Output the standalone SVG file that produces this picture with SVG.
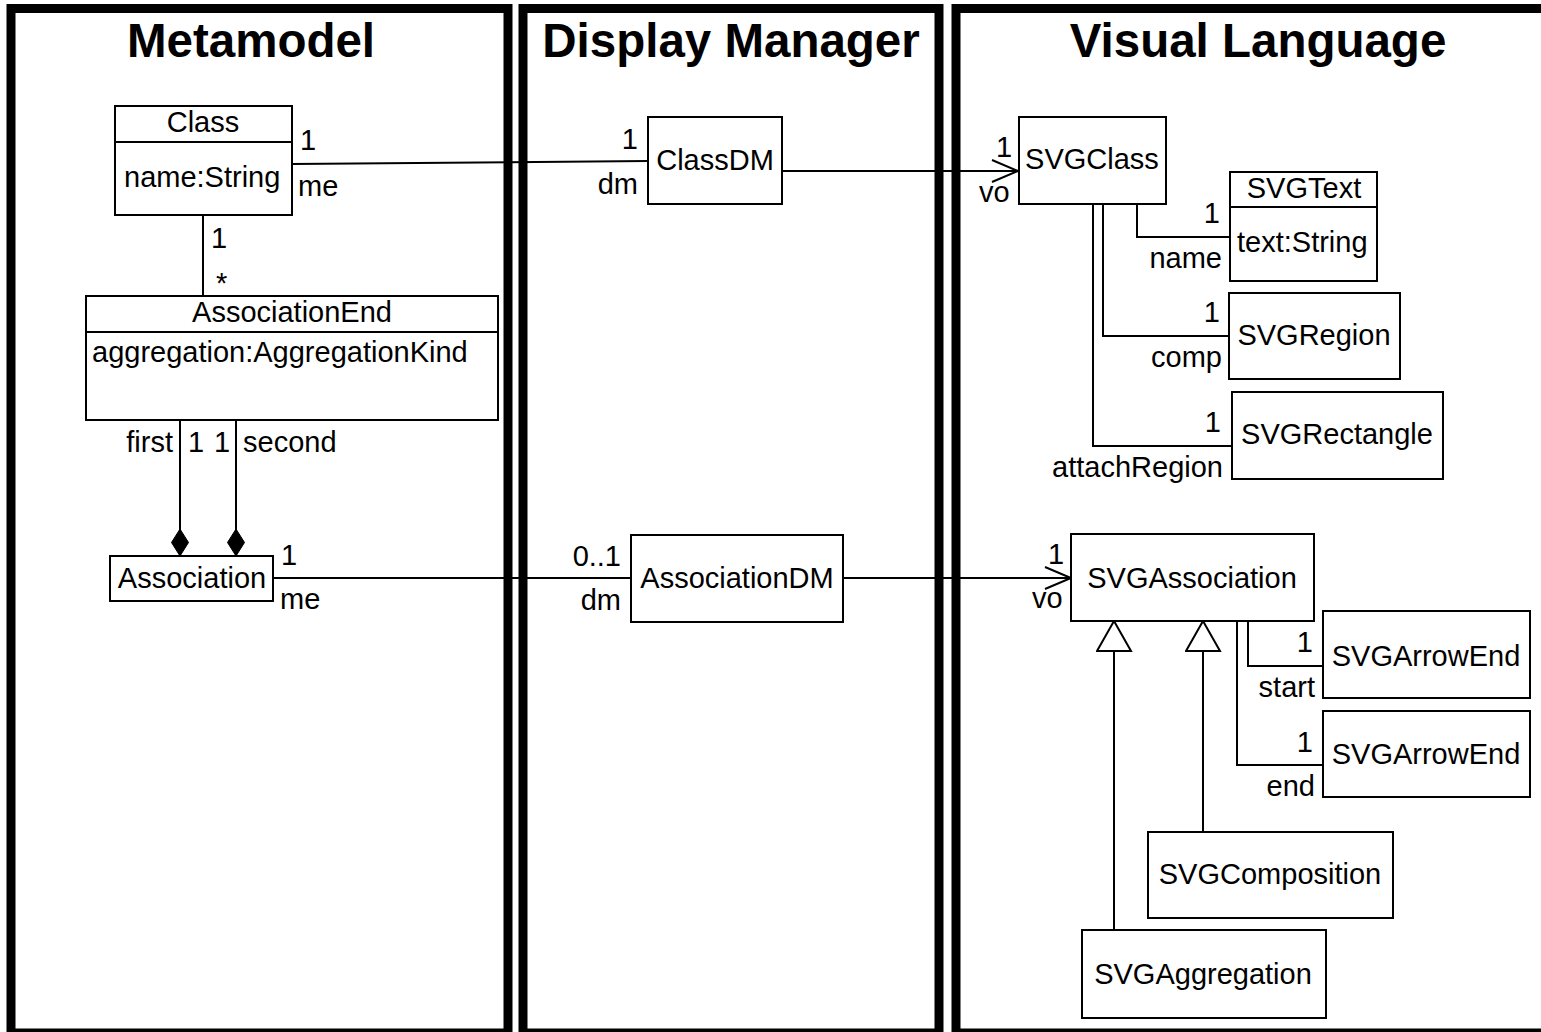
<svg xmlns="http://www.w3.org/2000/svg" width="1541" height="1032" viewBox="0 0 1541 1032">
<style>
.panel{fill:none;stroke:#000;stroke-width:9}
.box{fill:#fff;stroke:#000;stroke-width:2}
.ln{fill:none;stroke:#000;stroke-width:2}
text{font-family:"Liberation Sans",Arial,sans-serif;font-size:29px;fill:#000}
.title{font-size:47.5px;font-weight:bold;text-anchor:middle}
.c{text-anchor:middle}
.r{text-anchor:end}
</style>
<defs>
<marker id="open" markerWidth="30" markerHeight="30" refX="27" refY="12" orient="auto" markerUnits="userSpaceOnUse">
<path d="M1,1 L27,12 L1,23" fill="none" stroke="#000" stroke-width="2"/>
</marker>
<marker id="diamond" markerWidth="20" markerHeight="30" refX="9" refY="28" orient="0" markerUnits="userSpaceOnUse">
<path d="M9,1 L17.5,14.5 L9,28 L0.5,14.5 Z" fill="#000" stroke="#000" stroke-width="1"/>
</marker>
<marker id="tri" markerWidth="40" markerHeight="36" refX="18" refY="1" orient="0" markerUnits="userSpaceOnUse">
<path d="M18,1 L35,31 L1,31 Z" fill="#fff" stroke="#000" stroke-width="2"/>
</marker>
</defs>
<rect width="1541" height="1032" fill="#fff"/>
<g id="panels">
<rect class="panel" x="11" y="8.5" width="497" height="1024.5"/>
<rect class="panel" x="523" y="8.5" width="416" height="1024.5"/>
<rect class="panel" x="956" y="8.5" width="700" height="1024.5"/>
<text class="title" x="251" y="57">Metamodel</text>
<text class="title" x="731" y="57">Display Manager</text>
<text class="title" x="1258" y="57">Visual Language</text>
</g>
<g id="connectors">
<path class="ln" d="M292,164 L648,161"/>
<path class="ln" d="M203,215 L203,296"/>
<path class="ln" d="M180,420 L180,556" marker-end="url(#diamond)"/>
<path class="ln" d="M236,420 L236,556" marker-end="url(#diamond)"/>
<path class="ln" d="M273,578 L631,578"/>
<path class="ln" d="M782,171 L1018,171" marker-end="url(#open)"/>
<path class="ln" d="M843,578 L1071,578" marker-end="url(#open)"/>
<path class="ln" d="M1137,204 L1137,237 L1230,237"/>
<path class="ln" d="M1103,204 L1103,336 L1229,336"/>
<path class="ln" d="M1093,204 L1093,446 L1232,446"/>
<path class="ln" d="M1248,621 L1248,666 L1323,666"/>
<path class="ln" d="M1237,621 L1237,765 L1323,765"/>
<path class="ln" d="M1114,930 L1114,621" marker-end="url(#tri)"/>
<path class="ln" d="M1203,832 L1203,621" marker-end="url(#tri)"/>
<text x="300" y="150">1</text>
<text x="298" y="196">me</text>
<text x="211" y="248">1</text>
<text x="216" y="293">*</text>
<text class="r" x="173" y="452">first</text>
<text x="188" y="452">1</text>
<text x="214" y="452">1</text>
<text x="243" y="452">second</text>
<text x="281" y="565">1</text>
<text x="280" y="609">me</text>
<text class="r" x="638" y="149">1</text>
<text class="r" x="638" y="194">dm</text>
<text class="r" x="621" y="566">0..1</text>
<text class="r" x="621" y="610">dm</text>
<text x="996" y="157">1</text>
<text x="979" y="202">vo</text>
<text x="1048" y="564">1</text>
<text x="1032" y="608">vo</text>
<text class="r" x="1220" y="223">1</text>
<text class="r" x="1222" y="268">name</text>
<text class="r" x="1220" y="322">1</text>
<text class="r" x="1222" y="367">comp</text>
<text class="r" x="1221" y="432">1</text>
<text class="r" x="1223" y="477">attachRegion</text>
<text class="r" x="1313" y="652">1</text>
<text class="r" x="1315" y="697">start</text>
<text class="r" x="1313" y="752">1</text>
<text class="r" x="1315" y="796">end</text>
</g>
<g id="Class">
<rect class="box" x="115" y="106" width="177" height="109"/>
<path class="ln" d="M115,142 L292,142"/>
<text class="c" x="203" y="132">Class</text>
<text x="124" y="187">name:String</text>
</g>
<g id="AssociationEnd">
<rect class="box" x="86" y="296" width="412" height="124"/>
<path class="ln" d="M86,332 L498,332"/>
<text class="c" x="292" y="322">AssociationEnd</text>
<text x="92" y="362">aggregation:AggregationKind</text>
</g>
<g id="Association">
<rect class="box" x="110" y="556" width="163" height="45"/>
<text class="c" x="192" y="588">Association</text>
</g>
<g id="ClassDM">
<rect class="box" x="648" y="117" width="134" height="87"/>
<text class="c" x="715" y="170">ClassDM</text>
</g>
<g id="AssociationDM">
<rect class="box" x="631" y="535" width="212" height="87"/>
<text class="c" x="737" y="588">AssociationDM</text>
</g>
<g id="SVGClass">
<rect class="box" x="1019" y="117" width="147" height="87"/>
<text class="c" x="1092" y="169">SVGClass</text>
</g>
<g id="SVGText">
<rect class="box" x="1230" y="172" width="147" height="109"/>
<path class="ln" d="M1230,207 L1377,207"/>
<text class="c" x="1304" y="198">SVGText</text>
<text x="1237" y="252">text:String</text>
</g>
<g id="SVGRegion">
<rect class="box" x="1229" y="293" width="171" height="86"/>
<text class="c" x="1314" y="345">SVGRegion</text>
</g>
<g id="SVGRectangle">
<rect class="box" x="1232" y="392" width="211" height="87"/>
<text class="c" x="1337" y="444">SVGRectangle</text>
</g>
<g id="SVGAssociation">
<rect class="box" x="1071" y="534" width="243" height="87"/>
<text class="c" x="1192" y="588">SVGAssociation</text>
</g>
<g id="SVGArrowEnd1">
<rect class="box" x="1323" y="611" width="207" height="87"/>
<text class="c" x="1426" y="666">SVGArrowEnd</text>
</g>
<g id="SVGArrowEnd2">
<rect class="box" x="1323" y="711" width="207" height="86"/>
<text class="c" x="1426" y="764">SVGArrowEnd</text>
</g>
<g id="SVGComposition">
<rect class="box" x="1148" y="832" width="245" height="86"/>
<text class="c" x="1270" y="884">SVGComposition</text>
</g>
<g id="SVGAggregation">
<rect class="box" x="1082" y="930" width="244" height="88"/>
<text class="c" x="1203" y="984">SVGAggregation</text>
</g>
</svg>
